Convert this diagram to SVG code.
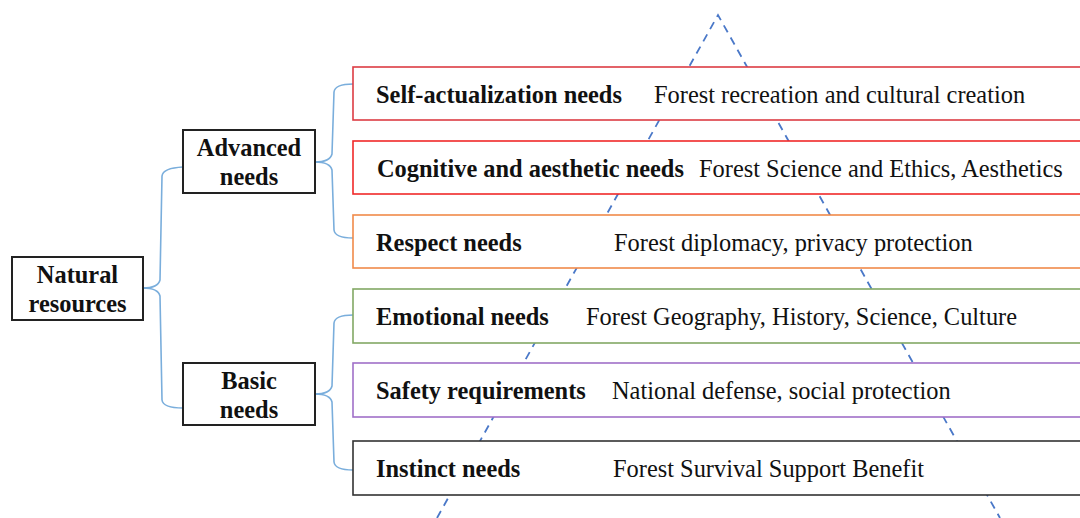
<svg xmlns="http://www.w3.org/2000/svg" width="1080" height="518" viewBox="0 0 1080 518">
<style>
.b{font-family:"Liberation Serif","Times New Roman",serif;font-weight:bold;font-size:24.4px;fill:#111}
.r{font-family:"Liberation Serif","Times New Roman",serif;font-size:24.4px;fill:#111}
.c{text-anchor:middle}
.box{fill:#fff;stroke-width:1.6}
.lbox{fill:#fff;stroke:#222;stroke-width:2}
.br{fill:none;stroke:#7aaedc;stroke-width:1.6}
.tri{fill:none;stroke:#4a78c8;stroke-width:1.8;stroke-dasharray:8 6}
</style>
<rect width="1080" height="518" fill="#fff"/>
<g id="triangle">
<path class="tri" d="M437 518 L718 15 L1000 518"/>
</g>
<g id="connectors">
<path class="br" d="M143 288 Q158 288 160 280 L162 176 Q163 168 183 167"/>
<path class="br" d="M143 288 Q158 288 160 296 L162 400 Q163 408 183 408"/>
<path class="br" d="M315 162 Q330 162 332 154 L334 92 Q335 84 353 84"/>
<path class="br" d="M315 162 Q330 162 332 170 L334 230 Q335 238 353 238"/>
<path class="br" d="M315 394 Q330 394 332 386 L334 323 Q335 315 353 315"/>
<path class="br" d="M315 394 Q330 394 332 402 L334 462 Q335 470 353 470"/>
</g>
<g id="natural">
<rect class="lbox" x="12" y="257" width="131" height="63"/>
<text class="b c" x="77.5" y="283">Natural</text>
<text class="b c" x="77.5" y="312">resources</text>
</g>
<g id="advanced">
<rect class="lbox" x="183" y="130" width="132" height="63"/>
<text class="b c" x="249" y="156">Advanced</text>
<text class="b c" x="249" y="185">needs</text>
</g>
<g id="basic">
<rect class="lbox" x="183" y="363" width="132" height="62"/>
<text class="b c" x="249" y="389">Basic</text>
<text class="b c" x="249" y="418">needs</text>
</g>
<g id="self">
<rect class="box" x="353" y="67" width="740" height="53" stroke="#dc3c44"/>
<text class="b" x="376" y="103">Self-actualization needs</text>
<text class="r" x="654" y="103">Forest recreation and cultural creation</text>
</g>
<g id="cognitive">
<rect class="box" x="353" y="141" width="740" height="53" stroke="#f02828"/>
<text class="b" x="377" y="177">Cognitive and aesthetic needs</text>
<text class="r" x="699" y="177">Forest Science and Ethics, Aesthetics</text>
</g>
<g id="respect">
<rect class="box" x="353" y="215" width="740" height="53" stroke="#f08a4a"/>
<text class="b" x="376" y="251">Respect needs</text>
<text class="r" x="614" y="251">Forest diplomacy, privacy protection</text>
</g>
<g id="emotional">
<rect class="box" x="353" y="289" width="740" height="54" stroke="#82a864"/>
<text class="b" x="376" y="325">Emotional needs</text>
<text class="r" x="586" y="325">Forest Geography, History, Science, Culture</text>
</g>
<g id="safety">
<rect class="box" x="353" y="363" width="740" height="54" stroke="#a070c8"/>
<text class="b" x="376" y="399">Safety requirements</text>
<text class="r" x="612" y="399">National defense, social protection</text>
</g>
<g id="instinct">
<rect class="box" x="353" y="441" width="740" height="54" stroke="#333"/>
<text class="b" x="376" y="477">Instinct needs</text>
<text class="r" x="613" y="477">Forest Survival Support Benefit</text>
</g>
</svg>
